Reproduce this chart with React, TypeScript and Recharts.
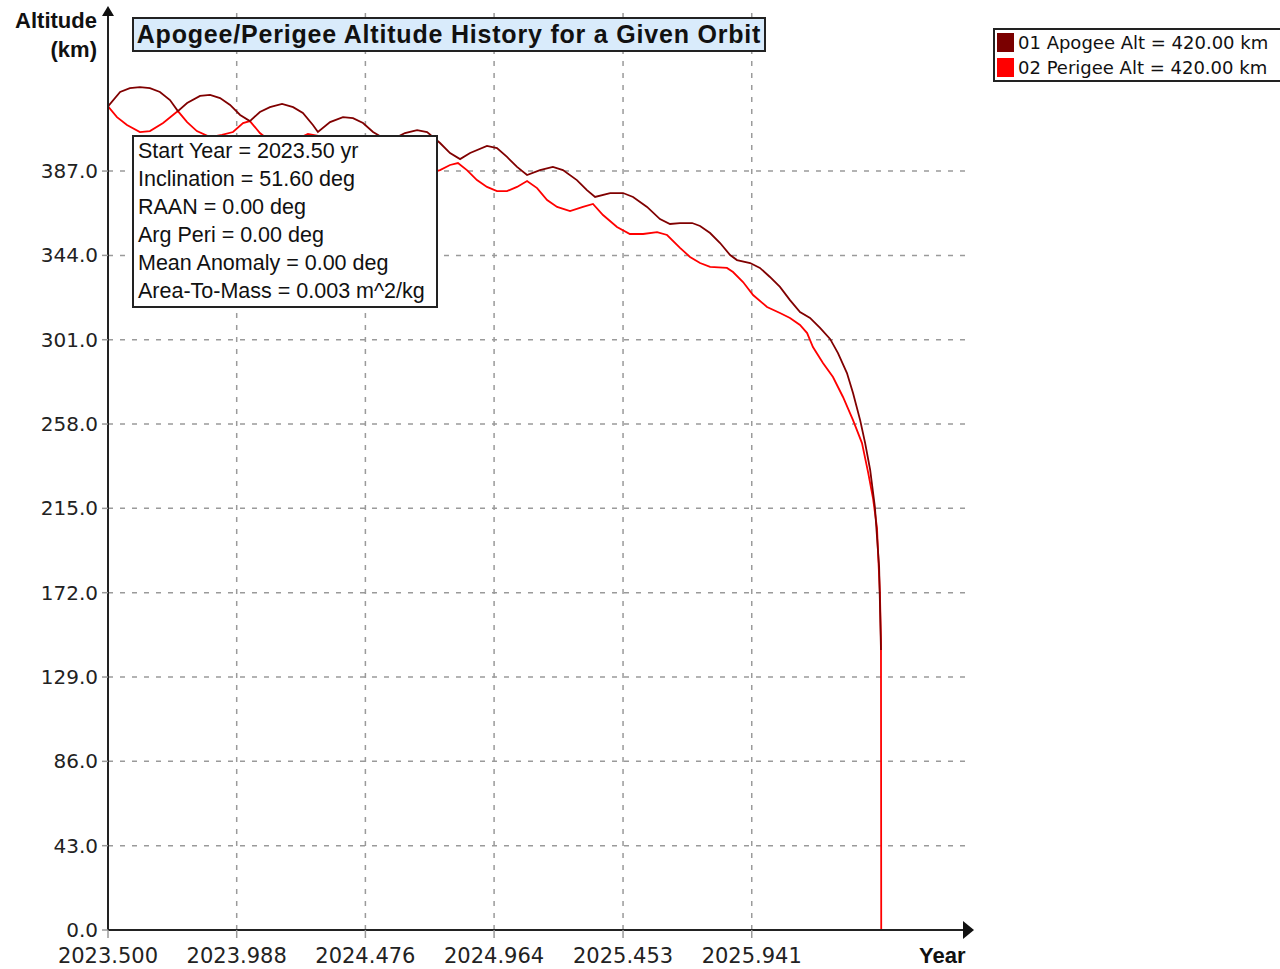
import React from 'react';
import { LineChart, Line, XAxis, YAxis, ReferenceLine } from 'recharts';

// values (year, km)
const apogeeYears = [
  2023.5, 2023.546, 2023.583, 2023.621, 2023.659, 2023.697, 2023.735, 2023.765,
  2023.8, 2023.849, 2023.887, 2023.925, 2023.963, 2024.001, 2024.038,
  2024.076, 2024.114, 2024.16, 2024.202, 2024.239, 2024.277, 2024.296,
  2024.342, 2024.391, 2024.429, 2024.467, 2024.505, 2024.569,
  2024.596, 2024.626, 2024.672, 2024.71, 2024.759, 2024.797, 2024.835,
  2024.873, 2024.937, 2024.975, 2025.013, 2025.051, 2025.089,
  2025.138, 2025.187, 2025.225, 2025.278, 2025.316, 2025.347,
  2025.404, 2025.453, 2025.491, 2025.544, 2025.593, 2025.631,
  2025.669, 2025.715, 2025.745, 2025.783, 2025.821, 2025.859, 2025.885,
  2025.935, 2025.972, 2026.01, 2026.048, 2026.086, 2026.124, 2026.162,
  2026.2, 2026.238, 2026.268, 2026.302, 2026.325, 2026.352, 2026.371,
  2026.39, 2026.408, 2026.416, 2026.424, 2026.431,
];
const apogeeAlt = [
  420.0, 427.3, 429.3, 429.8, 429.3, 427.3, 423.2, 417.6,
  421.7, 425.3, 425.8, 424.2, 420.7, 415.6, 412.5,
  417.1, 419.6, 421.2, 419.6, 416.6, 410.5, 406.9,
  412.0, 414.5, 414.0, 411.5, 406.9, 401.8,
  404.3, 406.4, 407.9, 406.9, 401.3, 396.2, 393.1,
  396.2, 399.8, 398.7, 394.2, 389.1, 385.0,
  387.5, 389.1, 387.5, 382.4, 377.3, 373.8,
  375.8, 375.8, 373.8, 368.7, 362.5, 360.0,
  360.5, 360.5, 359.0, 355.4, 350.3, 344.2, 341.6,
  340.1, 337.6, 333.0, 327.9, 321.2, 315.1, 312.1,
  307.0, 301.4, 294.2, 284.0, 273.8, 260.0, 248.3,
  234.6, 215.7, 200.4, 185.1, 142.8,
];

const perigeeYears = [
  2023.5, 2023.534, 2023.572, 2023.621, 2023.659, 2023.709, 2023.765,
  2023.8, 2023.837, 2023.887, 2023.932, 2023.974, 2024.012, 2024.038,
  2024.076, 2024.114, 2024.16, 2024.209, 2024.258, 2024.296,
  2024.342, 2024.387, 2024.437, 2024.486, 2024.531, 2024.569,
  2024.607, 2024.645, 2024.691, 2024.721, 2024.759, 2024.797, 2024.827,
  2024.861, 2024.899, 2024.937, 2024.975, 2025.013, 2025.051, 2025.089,
  2025.127, 2025.165, 2025.203, 2025.252, 2025.301, 2025.339,
  2025.377, 2025.43, 2025.479, 2025.529, 2025.582, 2025.62,
  2025.669, 2025.707, 2025.745, 2025.783, 2025.847, 2025.87, 2025.908,
  2025.946, 2025.999, 2026.048, 2026.086, 2026.124, 2026.151, 2026.173,
  2026.211, 2026.249, 2026.287, 2026.325, 2026.359, 2026.382, 2026.401,
  2026.416, 2026.42, 2026.427, 2026.431, 2026.432,
];
const perigeeAlt = [
  420.0, 414.5, 410.5, 406.9, 407.4, 411.5, 417.6,
  412.0, 407.4, 404.3, 405.4, 406.9, 411.5, 412.5,
  406.4, 402.3, 400.3, 402.8, 405.9, 404.9,
  400.3, 396.7, 394.7, 396.2, 398.7, 400.3,
  395.2, 390.1, 385.5, 386.0, 387.5, 390.1, 391.1,
  387.5, 382.4, 378.9, 376.8, 376.8, 378.9, 381.9,
  378.3, 372.2, 368.7, 366.6, 368.7, 370.2,
  364.6, 358.5, 354.9, 354.9, 355.9, 354.4,
  347.8, 343.2, 340.1, 338.1, 337.6, 335.5, 330.4,
  323.8, 317.7, 314.6, 312.1, 308.5, 304.4, 297.3,
  289.1, 282.0, 271.8, 260.0, 248.3, 233.5, 220.0,
  205.0, 192.2, 171.8, 147.9, 0.0,
];

const yearTicks = [2023.5, 2023.988, 2024.476, 2024.964, 2025.453, 2025.941];
const altTicks = [0, 43, 86, 129, 172, 215, 258, 301, 344, 387];

const legendItems = [
  { label: '01 Apogee Alt = 420.00 km', color: '#7a0000' },
  { label: '02 Perigee Alt = 420.00 km', color: '#ff0000' },
];

const orbitInfo = [
  'Start Year = 2023.50 yr',
  'Inclination = 51.60 deg',
  'RAAN = 0.00 deg',
  'Arg Peri = 0.00 deg',
  'Mean Anomaly = 0.00 deg',
  'Area-To-Mass = 0.003 m^2/kg',
];

const toRows = (years: number[], alts: number[]) =>
  years.map((year, i) => ({ year, alt: alts[i] }));

const apogeeData = toRows(apogeeYears, apogeeAlt);
const perigeeData = toRows(perigeeYears, perigeeAlt);

const W = 1280;
const H = 969;
const GRID = '#9a9a9a';

export default function App() {
  return (
    <div
      style={{
        position: 'absolute',
        left: 0,
        top: 0,
        width: W,
        height: H,
        overflow: 'hidden',
        background: '#fff',
        fontFamily: '"Liberation Sans", Arial, sans-serif',
      }}
    >
      <LineChart
        width={W}
        height={H}
        margin={{ top: 13, right: 312, bottom: 0, left: 8 }}
      >
        <XAxis
          type="number"
          dataKey="year"
          domain={[2023.5, 2026.761]}
          allowDataOverflow
          ticks={yearTicks}
          tickFormatter={(v: number) => v.toFixed(3)}
          height={39}
          tickSize={8}
          tickMargin={10}
          tick={{ fontSize: 21, fill: '#222', fontFamily: 'DejaVu Sans' }}
          tickLine={{ stroke: GRID, strokeWidth: 1.5 }}
          axisLine={{ stroke: '#222', strokeWidth: 2 }}
        />
        <YAxis
          type="number"
          domain={[0, 467.6]}
          allowDataOverflow
          ticks={altTicks}
          tickFormatter={(v: number) => v.toFixed(1)}
          width={100}
          tickSize={6}
          tickMargin={4}
          tick={{ fontSize: 20, fill: '#222', fontFamily: 'DejaVu Sans' }}
          tickLine={{ stroke: GRID, strokeWidth: 1.5 }}
          axisLine={{ stroke: '#222', strokeWidth: 2 }}
        />
        {/* dashed grid at the tick values only */}
        {altTicks
          .filter((t) => t > 0)
          .map((t) => (
            <ReferenceLine
              key={'h' + t}
              y={t}
              stroke={GRID}
              strokeWidth={1.5}
              strokeDasharray="5 7"
            />
          ))}
        {yearTicks
          .filter((t) => t > 2023.5)
          .map((t) => (
            <ReferenceLine
              key={'v' + t}
              x={t}
              stroke={GRID}
              strokeWidth={1.5}
              strokeDasharray="5 7"
            />
          ))}
        <Line
          data={perigeeData}
          dataKey="alt"
          type="linear"
          stroke="#ff0000"
          strokeWidth={1.8}
          dot={false}
          isAnimationActive={false}
        />
        <Line
          data={apogeeData}
          dataKey="alt"
          type="linear"
          stroke="#800000"
          strokeWidth={1.8}
          dot={false}
          isAnimationActive={false}
        />
      </LineChart>

      {/* axis arrows */}
      <svg
        width={W}
        height={H}
        style={{ position: 'absolute', left: 0, top: 0, pointerEvents: 'none' }}
      >
        <line x1={108} y1={14} x2={108} y2={10} stroke="#222" strokeWidth={2} />
        <polygon points="102,16 114,16 108,6" fill="#111" />
        <line x1={966} y1={930} x2={968} y2={930} stroke="#222" strokeWidth={2} />
        <polygon points="963,921 963,939 974,930" fill="#111" />
      </svg>

      {/* axis titles */}
      <div
        style={{
          position: 'absolute',
          right: W - 97,
          top: 6,
          textAlign: 'right',
          fontWeight: 'bold',
          fontSize: 22,
          lineHeight: '29px',
          color: '#111',
        }}
      >
        <div>Altitude</div>
        <div>(km)</div>
      </div>
      <div
        style={{
          position: 'absolute',
          left: 919,
          top: 941,
          fontWeight: 'bold',
          fontSize: 22,
          lineHeight: '30px',
          color: '#111',
        }}
      >
        Year
      </div>

      {/* title */}
      <div
        style={{
          position: 'absolute',
          left: 132,
          top: 17,
          width: 630,
          height: 31,
          border: '2px solid #222',
          background: '#d9ebfb',
          fontWeight: 'bold',
          fontSize: 25,
          letterSpacing: 0.8,
          lineHeight: '31px',
          textAlign: 'center',
          whiteSpace: 'nowrap',
          color: '#111',
        }}
      >
        Apogee/Perigee Altitude History for a Given Orbit
      </div>

      {/* orbit parameters */}
      <div
        style={{
          position: 'absolute',
          left: 132,
          top: 135,
          width: 298,
          height: 169,
          border: '2px solid #222',
          background: '#fff',
          paddingLeft: 4,
          fontSize: 21.5,
          lineHeight: '28px',
          whiteSpace: 'nowrap',
          color: '#111',
        }}
      >
        {orbitInfo.map((t) => (
          <div key={t}>{t}</div>
        ))}
      </div>

      {/* legend */}
      <div
        style={{
          position: 'absolute',
          left: 993,
          top: 28,
          width: 300,
          height: 50,
          border: '2px solid #222',
          background: '#fff',
          fontFamily: 'DejaVu Sans',
          fontSize: 18,
          color: '#111',
        }}
      >
        {legendItems.map((item) => (
          <div
            key={item.label}
            style={{ display: 'flex', alignItems: 'center', height: 25, paddingLeft: 2 }}
          >
            <span
              style={{
                display: 'inline-block',
                width: 17,
                height: 19,
                background: item.color,
                marginRight: 4,
              }}
            />
            <span style={{ whiteSpace: 'nowrap' }}>{item.label}</span>
          </div>
        ))}
      </div>
    </div>
  );
}
